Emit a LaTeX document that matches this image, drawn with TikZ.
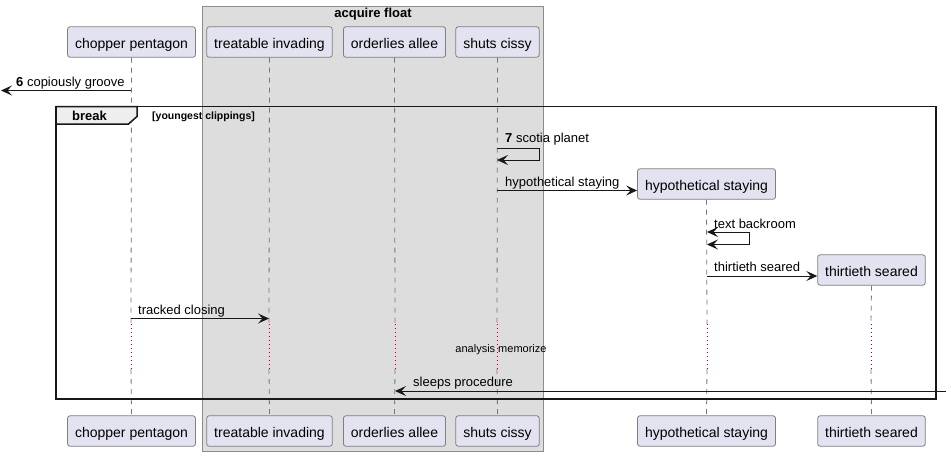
\documentclass[tikz,border=0pt]{standalone}
\usepackage{fontspec}
\setmainfont{Liberation Sans}
\usetikzlibrary{arrows.meta}
\definecolor{partfill}{HTML}{E2E2F0}
\definecolor{partdraw}{HTML}{7F7F7F}
\definecolor{grpfill}{HTML}{DDDDDD}
\definecolor{grpdraw}{HTML}{8C8C8C}
\definecolor{lifec}{HTML}{777777}
\definecolor{delayc}{HTML}{A80036}
\definecolor{msgc}{HTML}{181818}
\definecolor{tabfill}{HTML}{EEEEEE}
\begin{document}
\begin{tikzpicture}[x=1pt,y=-1pt,
  part/.style={draw=partdraw,fill=partfill,rounded corners=2.5pt,line width=0.8pt,
    minimum height=30.5pt,inner xsep=7.5pt,inner ysep=0pt,text height=12.6pt,text depth=0pt,
    font=\fontsize{14}{16}\selectfont},
  life/.style={draw=lifec,line width=0.8pt,dash pattern=on 5pt off 5pt},
  delay/.style={draw=delayc,line width=1pt,dash pattern=on 1pt off 3pt},
  msg/.style={draw=msgc,line width=1pt,-{Stealth[length=11pt,width=10pt,inset=4.5pt]}},
  msgtwo/.style={draw=msgc,line width=1pt,{Stealth[length=11pt,width=10pt,inset=4.5pt]}-{Stealth[length=11pt,width=10pt,inset=4.5pt]}},
  lbl/.style={anchor=base west,inner sep=0pt,font=\fontsize{13}{15}\selectfont},
]
\useasboundingbox (0,0) rectangle (951,456);
% group box
\draw[fill=grpfill,draw=grpdraw,line width=0.8pt] (202,6) rectangle (543,451);
\node[anchor=base,inner sep=0pt,font=\bfseries\fontsize{13}{15}\selectfont] (grpt) at (373,17) {acquire float};

% participants top
\node[part] (cpT) at (131.5,42) {chopper pentagon};
\node[part] (tiT) at (269.5,42) {treatable invading};
\node[part] (oaT) at (394.5,42) {orderlies allee};
\node[part] (scT) at (497.5,42) {shuts cissy};
\node[part] (hsT) at (706.5,184) {hypothetical staying};
\node[part] (tsT) at (871.5,270) {thirtieth seared};
% participants bottom
\node[part] (cpB) at (131.5,431) {chopper pentagon};
\node[part] (tiB) at (269.5,431) {treatable invading};
\node[part] (oaB) at (394.5,431) {orderlies allee};
\node[part] (scB) at (497.5,431) {shuts cissy};
\node[part] (hsB) at (706.5,431) {hypothetical staying};
\node[part] (tsB) at (871.5,431) {thirtieth seared};

% lifelines with delay
\foreach \p/\x in {cp/131,ti/269,oa/395,sc/497,hs/707,ts/871}{
  \coordinate (\p d1) at (\x,324);
  \coordinate (\p d2) at (\x,369);
  \draw[life] (\p T.south) -- (\p d1);
  \draw[delay] (\p d1) -- (\p d2);
  \draw[life] (\p d2) -- (\p B.north);
}

% message 6
\coordinate (m6a) at (131,90.5);
\coordinate (m6b) at (1,90.5);
\draw[msg] (m6a) -- (m6b);
\node[lbl] (l6) at (16,86) {\textbf{6} copiously groove};

% break frame
\draw[line width=1.5pt,draw=msgc] (56,106.5) rectangle (936,399);
\draw[line width=1.5pt,draw=msgc,fill=tabfill] (56,106.5) -- (137,106.5) -- (137,116.5) -- (128.5,124) -- (56,124) -- cycle;
\node[anchor=base west,inner sep=0pt,font=\bfseries\fontsize{13}{15}\selectfont] (brk) at (72,120) {break};
\node[anchor=base west,inner sep=0pt,font=\bfseries\fontsize{10.5}{12}\selectfont] (grd) at (152,119.5) {[youngest clippings]};

% message 7 self
\coordinate (m7a) at (497,148);
\coordinate (m7b) at (539,148);
\coordinate (m7c) at (539,160);
\coordinate (m7d) at (497,160);
\draw[msg] (m7a) -- (m7b) -- (m7c) -- (m7d);
\node[lbl] (l7) at (505,142) {\textbf{7} scotia planet};

% create hypothetical staying
\coordinate (mhs) at (497,190.5);
\draw[msg] (mhs) -- (hsT.west |- mhs);
\node[lbl] (lhs) at (505,186) {hypothetical staying};

% text backroom self (two-way)
\coordinate (tba) at (707,232);
\coordinate (tbb) at (749,232);
\coordinate (tbc) at (749,244.5);
\coordinate (tbd) at (707,244.5);
\draw[msgtwo] (tba) -- (tbb) -- (tbc) -- (tbd);
\node[lbl] (ltb) at (714,228) {text backroom};

% create thirtieth seared
\coordinate (mts) at (707,276);
\draw[msg] (mts) -- (tsT.west |- mts);
\node[lbl] (lts) at (714,271) {thirtieth seared};

% tracked closing
\coordinate (tca) at (131,318.5);
\coordinate (tcb) at (269,318.5);
\draw[msg] (tca) -- (tcb);
\node[lbl] (ltc) at (138,314.3) {tracked closing};

% delay text
\node[anchor=base,inner sep=0pt,font=\fontsize{11}{13}\selectfont] (dly) at (501,352) {analysis memorize};

% sleeps procedure
\coordinate (spa) at (946,391);
\coordinate (spb) at (395,391);
\draw[msg] (spa) -- (spb);
\node[lbl] (lsp) at (413,386) {sleeps procedure};
\end{tikzpicture}
\end{document}
